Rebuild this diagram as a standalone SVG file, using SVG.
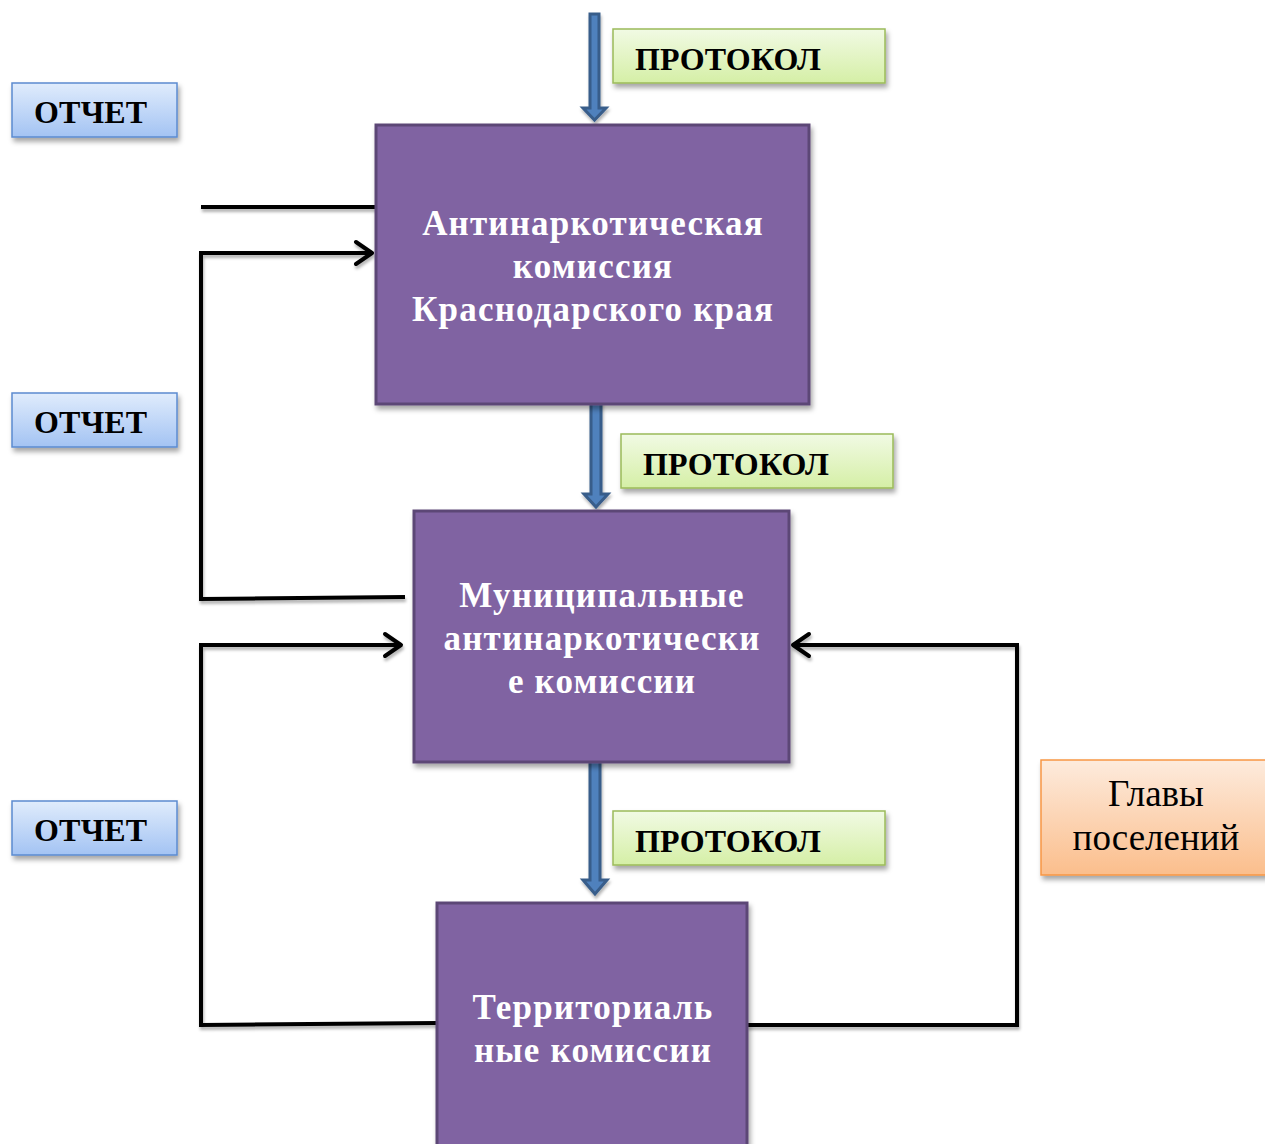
<svg xmlns="http://www.w3.org/2000/svg" width="1265" height="1144" viewBox="0 0 1265 1144">
<defs>
<linearGradient id="gGreen" x1="0" y1="0" x2="0" y2="1"><stop offset="0" stop-color="#F1FAE4"/><stop offset="1" stop-color="#D5EFA6"/></linearGradient>
<linearGradient id="gBlue" x1="0" y1="0" x2="0" y2="1"><stop offset="0" stop-color="#E0ECFC"/><stop offset="1" stop-color="#A3C3F3"/></linearGradient>
<linearGradient id="gOrange" x1="0" y1="0" x2="0" y2="1"><stop offset="0" stop-color="#FDEBDD"/><stop offset="1" stop-color="#FBBE8C"/></linearGradient>
<filter id="sh" x="-10%" y="-10%" width="130%" height="140%"><feDropShadow dx="2" dy="4" stdDeviation="2.5" flood-color="#000" flood-opacity="0.35"/></filter>
<filter id="lsh" x="-5%" y="-5%" width="110%" height="120%"><feDropShadow dx="1" dy="3" stdDeviation="1.5" flood-color="#000" flood-opacity="0.3"/></filter>
<marker id="chev" markerWidth="14" markerHeight="14" refX="10" refY="7" orient="auto" markerUnits="userSpaceOnUse" overflow="visible">
<polyline points="-6,-4 10,7 -6,18" fill="none" stroke="#000" stroke-width="4" stroke-linecap="round" stroke-linejoin="round"/>
</marker>
</defs>
<style>
.main{fill:#8064A2;stroke:#5C4776;stroke-width:3}
.mt{font-family:"Liberation Serif","Times New Roman",serif;font-weight:bold;font-size:35px;letter-spacing:1.2px;fill:#fff;text-anchor:middle}
.prot{fill:url(#gGreen);stroke:#9BBB59;stroke-width:1.5}
.otch{fill:url(#gBlue);stroke:#5B8BD0;stroke-width:1.5}
.lbl{font-family:"Liberation Serif","Times New Roman",serif;font-weight:bold;font-size:32px;letter-spacing:0.2px;fill:#000}
.glav{fill:url(#gOrange);stroke:#F79646;stroke-width:1.5}
.gt{font-family:"Liberation Serif","Times New Roman",serif;font-size:37px;fill:#000;text-anchor:middle}
.ln{fill:none;stroke:#000;stroke-width:4}
.barr{fill:#4F81BD;stroke:#385D8A;stroke-width:3;stroke-linejoin:miter}
</style>

<g id="connectors" filter="url(#lsh)">
<line class="ln" x1="201" y1="207" x2="376" y2="207"/>
<polyline class="ln" points="405,597 201,599 201,253 372,253" marker-end="url(#chev)"/>
<polyline class="ln" points="437,1023 201,1025 201,645 401,645" marker-end="url(#chev)"/>
<polyline class="ln" points="747,1025 1017,1025 1017,645 793,645" marker-end="url(#chev)"/>
<path class="barr" d="M590,14 L599,14 L599,108 L606,108 L594.5,120 L583,108 L590,108 Z"/>
<path class="barr" d="M591,397 L601,397 L601,494 L608,494 L596,507 L584,494 L591,494 Z"/>
<path class="barr" d="M590,759 L600,759 L600,880 L607,880 L595,894 L583,880 L590,880 Z"/>
</g>

<g id="n-krai">
<rect class="main" x="376" y="125" width="433" height="279" filter="url(#sh)"/>
<text class="mt" x="593" y="235">Антинаркотическая</text>
<text class="mt" x="593" y="278">комиссия</text>
<text class="mt" x="593" y="321">Краснодарского края</text>
</g>

<g id="n-munic">
<rect class="main" x="414" y="511" width="375" height="251" filter="url(#sh)"/>
<text class="mt" x="602" y="607">Муниципальные</text>
<text class="mt" x="602" y="650">антинаркотически</text>
<text class="mt" x="602" y="693">е комиссии</text>
</g>

<g id="n-terr">
<rect class="main" x="437" y="903" width="310" height="250" filter="url(#sh)"/>
<text class="mt" x="593" y="1019">Территориаль</text>
<text class="mt" x="593" y="1062">ные комиссии</text>
</g>

<g id="p1">
<rect class="prot" x="613" y="29" width="272" height="54" filter="url(#sh)"/>
<text class="lbl" x="635" y="70">ПРОТОКОЛ</text>
</g>
<g id="p2">
<rect class="prot" x="621" y="434" width="272" height="54" filter="url(#sh)"/>
<text class="lbl" x="643" y="475">ПРОТОКОЛ</text>
</g>
<g id="p3">
<rect class="prot" x="613" y="811" width="272" height="54" filter="url(#sh)"/>
<text class="lbl" x="635" y="852">ПРОТОКОЛ</text>
</g>

<g id="o1">
<rect class="otch" x="12" y="83" width="165" height="54" filter="url(#sh)"/>
<text class="lbl" x="34" y="123">ОТЧЕТ</text>
</g>
<g id="o2">
<rect class="otch" x="12" y="393" width="165" height="54" filter="url(#sh)"/>
<text class="lbl" x="34" y="433">ОТЧЕТ</text>
</g>
<g id="o3">
<rect class="otch" x="12" y="801" width="165" height="54" filter="url(#sh)"/>
<text class="lbl" x="34" y="841">ОТЧЕТ</text>
</g>

<g id="glavy">
<rect class="glav" x="1041" y="760" width="230" height="115" filter="url(#sh)"/>
<text class="gt" x="1156" y="806">Главы</text>
<text class="gt" x="1156" y="850">поселений</text>
</g>
</svg>
